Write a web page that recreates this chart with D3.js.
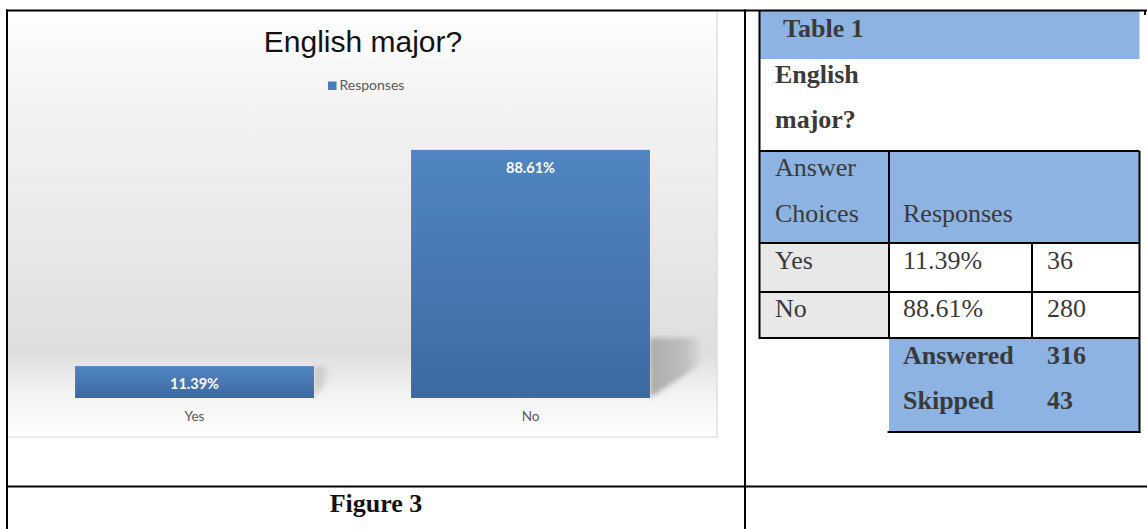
<!DOCTYPE html>
<html>
<head>
<meta charset="utf-8">
<script src="https://cdn.jsdelivr.net/npm/d3@7/dist/d3.min.js"></script>
<style>
  html, body { margin: 0; padding: 0; background: #fff; }
  svg { display: block; }
</style>
</head>
<body>
<svg id="chart" width="1147" height="529"></svg>
<script>
// ---- data ----
const categories = ["Yes", "No"];
const responses = [11.39, 88.61];
const counts = [36, 280];
const chartTitle = "English major?";
const seriesName = "Responses";
const tableTitle = "Table 1";
const tableQuestion = ["English", "major?"];
const tableHeader = [["Answer", "Choices"], "Responses"];
const answeredLabel = "Answered";
const answeredValue = 316;
const skippedLabel = "Skipped";
const skippedValue = 43;
const figureCaption = "Figure 3";

const svg = d3.select("#chart");
const defs = svg.append("defs");

// background gradient of chart area
const bg = defs.append("linearGradient").attr("id", "bgGrad")
  .attr("x1", 0).attr("y1", 0).attr("x2", 0).attr("y2", 1);
[[0, "#fefefe"], [0.22, "#f3f3f3"], [0.55, "#e8e8e8"], [0.8, "#dedede"], [0.9, "#f3f3f3"], [1, "#ffffff"]]
  .forEach(([o, c]) => bg.append("stop").attr("offset", o).attr("stop-color", c));

const barGrad = defs.append("linearGradient").attr("id", "barGrad")
  .attr("x1", 0).attr("y1", 0).attr("x2", 0).attr("y2", 1);
[[0, "#5085c1"], [0.5, "#4877b3"], [1, "#3d69a2"]]
  .forEach(([o, c]) => barGrad.append("stop").attr("offset", o).attr("stop-color", c));

const shGrad = defs.append("linearGradient").attr("id", "shGrad")
  .attr("x1", 0).attr("y1", 0).attr("x2", 1).attr("y2", 0);
[[0, "#ababab"], [0.7, "#bfbfbf"], [1, "#d8d8d8"]]
  .forEach(([o, c]) => shGrad.append("stop").attr("offset", o).attr("stop-color", c));
defs.append("filter").attr("id", "blur").attr("x", "-30%").attr("y", "-30%").attr("width", "160%").attr("height", "160%")
  .append("feGaussianBlur").attr("stdDeviation", 2.5);

// chart area
const chartBox = { x: 8, y: 11, w: 709, h: 426 };
svg.append("rect").attr("x", chartBox.x).attr("y", chartBox.y)
  .attr("width", chartBox.w).attr("height", chartBox.h)
  .attr("fill", "url(#bgGrad)");
svg.append("path")
  .attr("d", `M${chartBox.x},${chartBox.y + chartBox.h}H${chartBox.x + chartBox.w}V${chartBox.y}`)
  .attr("fill", "none").attr("stroke", "#d9d9d9").attr("stroke-width", 1.2);

// scales
const x = d3.scaleBand().domain(categories).range([26.5, 698.5])
  .paddingInner(0.289).paddingOuter(0.1445);
const y = d3.scaleLinear().domain([0, 100]).range([398, 118]);

const data = categories.map((c, i) => ({ cat: c, v: responses[i] }));

// shadows
svg.append("g").selectAll("path").data(data).join("path")
  .attr("d", d => {
    const xr = x(d.cat) + x.bandwidth();
    const h = Math.min(y(0) - y(d.v), 60);
    const k = h / 60;
    const w = 50 * k * k;
    const yb = y(0);
    return `M${xr},${yb - h}H${xr + w}V${yb - h * 0.55}L${xr},${yb}Z`;
  })
  .attr("fill", "url(#shGrad)")
  .attr("opacity", d => Math.min(1, (y(0) - y(d.v)) / 60))
  .attr("filter", "url(#blur)");

// bars
svg.append("g").selectAll("rect").data(data).join("rect")
  .attr("x", d => x(d.cat)).attr("y", d => y(d.v))
  .attr("width", x.bandwidth()).attr("height", d => y(0) - y(d.v))
  .attr("fill", "url(#barGrad)");

// data labels
svg.append("g").selectAll("text").data(data).join("text")
  .attr("x", d => x(d.cat) + x.bandwidth() / 2)
  .attr("y", d => y(d.v) + 23)
  .attr("text-anchor", "middle")
  .attr("font-family", "Lato, 'Open Sans', sans-serif")
  .attr("font-weight", 700).attr("font-size", 14.5)
  .attr("fill", "#ffffff")
  .text(d => d.v.toFixed(2) + "%");

// category axis labels
const xAxis = d3.axisBottom(x).tickSize(0).tickPadding(0);
const gx = svg.append("g").attr("transform", `translate(0,${y(0)})`).call(xAxis);
gx.select(".domain").remove();
gx.selectAll("text")
  .attr("y", 0).attr("dy", 23)
  .attr("font-family", "Lato, 'Open Sans', sans-serif")
  .attr("font-size", 13.5).attr("fill", "#595959");

// title
svg.append("text").attr("x", 363).attr("y", 52).attr("text-anchor", "middle")
  .attr("font-family", "'Liberation Sans', Arial, sans-serif")
  .attr("font-size", 30).attr("fill", "#111").text(chartTitle);

// legend
svg.append("rect").attr("x", 328).attr("y", 81.5).attr("width", 8.5).attr("height", 8.5).attr("fill", "#4a7bb7");
svg.append("text").attr("x", 339.5).attr("y", 90)
  .attr("font-family", "Lato, 'Open Sans', sans-serif")
  .attr("font-size", 14).attr("fill", "#595959").text(seriesName);

// ---- table ----
const blue = "#8db3e2";
const gray = "#e8e8e8";
const T = { l: 760, c1: 889, c2: 1032, r: 1139.5 };
const rowY = { h0: 11, h1: 59, q: 151, a: 243, b: 292, c: 338, d: 432 };

const tg = svg.append("g");
tg.append("rect").attr("x", T.l).attr("y", rowY.h0).attr("width", T.r - T.l).attr("height", rowY.h1 - rowY.h0).attr("fill", blue);
tg.append("rect").attr("x", T.l).attr("y", rowY.q).attr("width", T.r - T.l).attr("height", rowY.a - rowY.q).attr("fill", blue);
tg.append("rect").attr("x", T.l).attr("y", rowY.a).attr("width", T.c1 - T.l).attr("height", rowY.c - rowY.a).attr("fill", gray);
tg.append("rect").attr("x", T.c1).attr("y", rowY.c).attr("width", T.r - T.c1).attr("height", rowY.d - rowY.c).attr("fill", blue);

const lines = [
  [T.l, rowY.q, T.r, rowY.q],
  [T.l, rowY.a, T.r, rowY.a],
  [T.l, rowY.b, T.r, rowY.b],
  [T.l, rowY.c, T.r, rowY.c],
  [T.c1 - 1.5, rowY.d, T.r + 1, rowY.d],
  [T.c1, rowY.q, T.c1, rowY.c],
  [T.c2, rowY.a, T.c2, rowY.c],
  [T.r, rowY.q, T.r, rowY.d + 1],
  [T.l - 0.5, 10, T.l - 0.5, rowY.c + 1],
  // frame
  [6, 10.5, 1147, 10.5],
  [7, 9.5, 7, 529],
  [745, 9.5, 745, 529],
  [6, 486.5, 1147, 486.5],
  [1145, 10, 1145, 15]
];
tg.selectAll("line.b").data(lines).join("line")
  .attr("x1", d => d[0]).attr("y1", d => d[1]).attr("x2", d => d[2]).attr("y2", d => d[3])
  .attr("stroke", "#000").attr("stroke-width", 2);

const serif = "'Liberation Serif', 'Times New Roman', serif";
function txt(s, xx, yy, bold) {
  tg.append("text").attr("x", xx).attr("y", yy)
    .attr("font-family", serif).attr("font-size", 26)
    .attr("font-weight", bold ? 700 : 400)
    .attr("fill", "#3a3a3a").text(s);
}
txt(tableTitle, 783, 37, true);
txt(tableQuestion[0], 775, 83, true);
txt(tableQuestion[1], 775, 128, true);
txt(tableHeader[0][0], 775, 176, false);
txt(tableHeader[0][1], 775, 222, false);
txt(tableHeader[1], 903, 222, false);
const rowBase = [269, 317];
categories.forEach((c, i) => {
  txt(c, 775, rowBase[i], false);
  txt(responses[i].toFixed(2) + "%", 903, rowBase[i], false);
  txt(String(counts[i]), 1047, rowBase[i], false);
});
txt(answeredLabel, 903, 364, true);
txt(String(answeredValue), 1047, 364, true);
txt(skippedLabel, 903, 409, true);
txt(String(skippedValue), 1047, 409, true);

// caption
svg.append("text").attr("x", 376).attr("y", 512).attr("text-anchor", "middle")
  .attr("font-family", serif).attr("font-size", 26).attr("font-weight", 700)
  .attr("fill", "#111").text(figureCaption);
</script>
</body>
</html>
